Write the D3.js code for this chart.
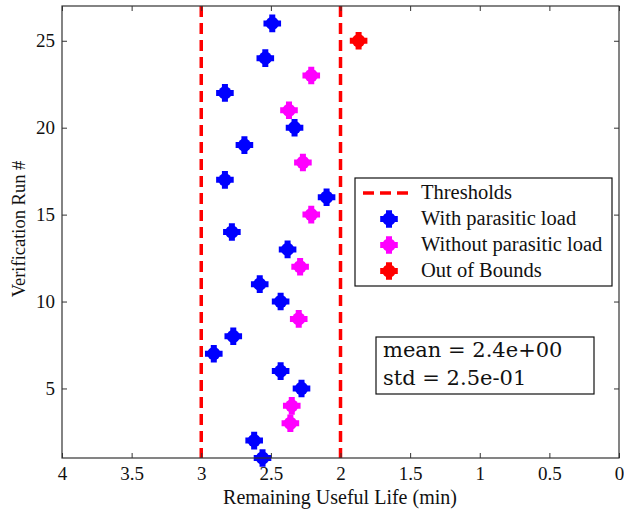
<!DOCTYPE html>
<html>
<head>
<meta charset="utf-8">
<script src="https://cdn.jsdelivr.net/npm/d3@7"></script>
<style>
  html, body { margin: 0; padding: 0; background: #fff; }
  svg { display: block; }
</style>
</head>
<body>
<svg id="chart" width="624" height="510"></svg>
<script>
// Remaining useful life estimates per verification run (minutes)
const withLoadRuns = [1, 2, 5, 6, 7, 8, 10, 11, 13, 14, 16, 17, 19, 20, 22, 24, 26];
const withLoadRUL  = [2.56, 2.62, 2.28, 2.43, 2.91, 2.77, 2.43, 2.58, 2.38, 2.78, 2.10, 2.83, 2.69, 2.33, 2.83, 2.54, 2.49];

const withoutLoadRuns = [3, 4, 9, 12, 15, 18, 21, 23];
const withoutLoadRUL  = [2.36, 2.35, 2.30, 2.29, 2.21, 2.27, 2.37, 2.21];

const outRuns = [25];
const outRUL  = [1.87];

const thresholds = [3, 2];

const xTicks = [4, 3.5, 3, 2.5, 2, 1.5, 1, 0.5, 0];
const yTicks = [5, 10, 15, 20, 25];

const legendLabels = ["Thresholds", "With parasitic load", "Without parasitic load", "Out of Bounds"];
const statsLines = ["mean = 2.4e+00", "std = 2.5e-01"];

const colors = { threshold: "#ff0000", withLoad: "#0000ff", withoutLoad: "#ff00ff", out: "#ff0000" };
const SERIF = "Liberation Serif";
const MATH = "DejaVu Serif";

const svg = d3.select("#chart");
const margin = { left: 62, top: 6, right: 5, bottom: 52 };
const W = 624, H = 510;
const x0 = margin.left, x1 = W - margin.right, y0 = margin.top, y1 = H - margin.bottom;

const x = d3.scaleLinear().domain([4, 0]).range([x0, x1]);
const y = d3.scaleLinear().domain([1, 27]).range([y1, y0]);

// Blob-like filled marker: a disc with a plus overlaid
function marker(g, cx, cy, color) {
  const m = g.append("g").attr("transform", `translate(${cx},${cy})`);
  m.append("circle").attr("r", 6.6).attr("fill", color);
  m.append("path")
    .attr("d", "M-3,-8.8H3V-3H8.8V3H3V8.8H-3V3H-8.8V-3H-3Z")
    .attr("fill", color);
}

// threshold lines
const plot = svg.append("g");
plot.selectAll("line.thr").data(thresholds).join("line")
  .attr("class", "thr")
  .attr("x1", d => x(d)).attr("x2", d => x(d))
  .attr("y1", y0).attr("y2", y1)
  .attr("stroke", colors.threshold).attr("stroke-width", 3.5)
  .attr("stroke-dasharray", "11,6");

// data points
withLoadRuns.forEach((r, i) => marker(plot, x(withLoadRUL[i]), y(r), colors.withLoad));
withoutLoadRuns.forEach((r, i) => marker(plot, x(withoutLoadRUL[i]), y(r), colors.withoutLoad));
outRuns.forEach((r, i) => marker(plot, x(outRUL[i]), y(r), colors.out));

// axes with inward ticks, mirrored on top and right
const axisColor = "#333";
function styleAxis(g) {
  g.attr("font-family", SERIF).attr("font-size", 19);
  g.select(".domain").remove();
  g.selectAll(".tick line").attr("stroke", axisColor).attr("stroke-width", 1);
  g.selectAll(".tick text")
    .style("font-family", SERIF).style("font-size", "19px")
    .attr("fill", "#111");
}
const xAxis = svg.append("g").attr("transform", `translate(0,${y1})`);
xAxis.call(d3.axisBottom(x).tickValues(xTicks).tickFormat(d3.format("")).tickSizeInner(-5).tickPadding(8.5));
styleAxis(xAxis);
const xAxisTop = svg.append("g").attr("transform", `translate(0,${y0})`);
xAxisTop.call(d3.axisTop(x).tickValues(xTicks).tickFormat("").tickSizeInner(-5));
styleAxis(xAxisTop);
const yAxis = svg.append("g").attr("transform", `translate(${x0},0)`);
yAxis.call(d3.axisLeft(y).tickValues(yTicks).tickSizeInner(-5).tickPadding(7));
styleAxis(yAxis);
const yAxisRight = svg.append("g").attr("transform", `translate(${x1},0)`);
yAxisRight.call(d3.axisRight(y).tickValues(yTicks).tickFormat("").tickSizeInner(-5));
styleAxis(yAxisRight);

svg.append("rect").attr("x", x0).attr("y", y0).attr("width", x1 - x0).attr("height", y1 - y0)
  .attr("fill", "none").attr("stroke", axisColor).attr("stroke-width", 1.2);

// axis titles
svg.append("text").attr("x", 340).attr("y", 504).attr("text-anchor", "middle")
  .style("font-family", SERIF).style("font-size", "20px").attr("fill", "#111")
  .text("Remaining Useful Life (min)");
svg.append("text").attr("transform", `translate(25,229) rotate(-90)`)
  .attr("text-anchor", "middle").style("font-family", SERIF).style("font-size", "18.5px").attr("fill", "#111")
  .text("Verification Run #");

// legend
const lg = svg.append("g");
lg.append("rect").attr("x", 355).attr("y", 178).attr("width", 257).attr("height", 108)
  .attr("fill", "#fff").attr("stroke", "#111").attr("stroke-width", 1.2);
const rowY = [193, 219, 245, 271];
lg.append("line").attr("x1", 363).attr("x2", 410).attr("y1", rowY[0]).attr("y2", rowY[0])
  .attr("stroke", colors.threshold).attr("stroke-width", 3.5).attr("stroke-dasharray", "11,6");
marker(lg, 389, rowY[1], colors.withLoad);
marker(lg, 389, rowY[2], colors.withoutLoad);
marker(lg, 389, rowY[3], colors.out);
lg.selectAll("text").data(legendLabels).join("text")
  .attr("x", 421).attr("y", (d, i) => rowY[i] + 6)
  .style("font-family", SERIF).style("font-size", "20.5px").attr("fill", "#111")
  .text(d => d);

// statistics box
const sb = svg.append("g");
sb.append("rect").attr("x", 376).attr("y", 337).attr("width", 218).attr("height", 57)
  .attr("fill", "#fff").attr("stroke", "#111").attr("stroke-width", 1.2);
sb.selectAll("text").data(statsLines).join("text")
  .attr("x", 383).attr("y", (d, i) => 357 + i * 28)
  .style("font-family", MATH).style("font-size", "21px").attr("fill", "#111")
  .text(d => d);
</script>
</body>
</html>
